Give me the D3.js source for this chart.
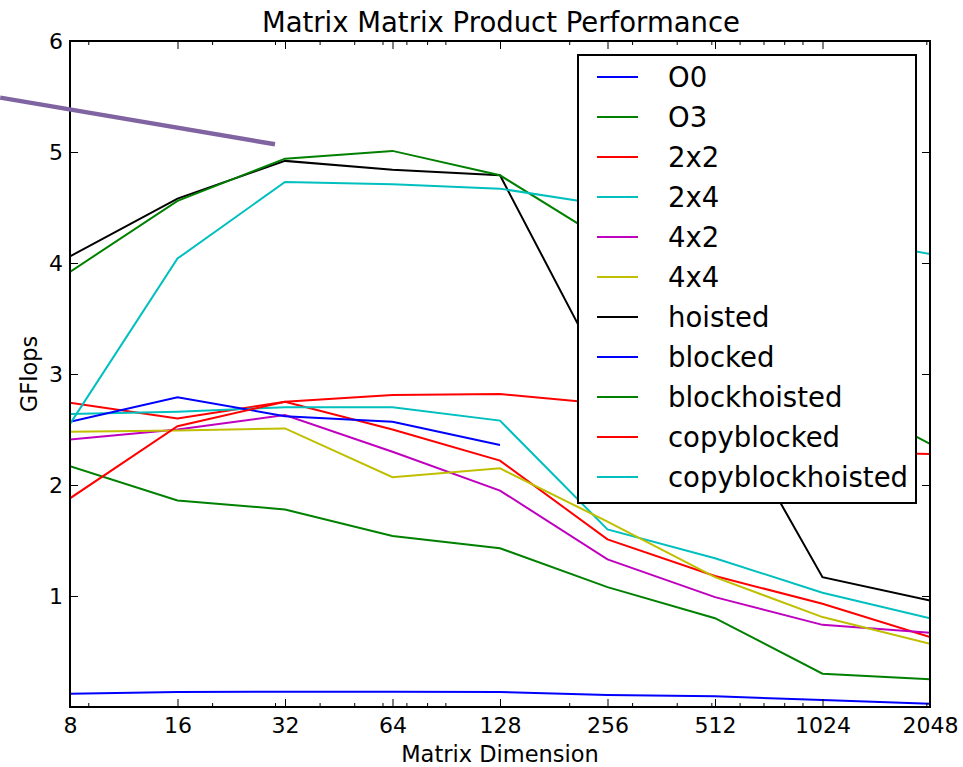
<!DOCTYPE html>
<html>
<head>
<meta charset="utf-8">
<script src="https://cdn.jsdelivr.net/npm/d3@7"></script>
<style>
  html, body { margin: 0; padding: 0; background: #fff; }
  svg { display: block; }
  text { font-family: "DejaVu Sans", sans-serif; fill: #000; }
</style>
</head>
<body>
<svg id="chart" width="963" height="767"></svg>
<script>
// ---- data ----
const dims = [8, 16, 32, 64, 128, 256, 512, 1024, 2048];
const xTickLabels = ["8", "16", "32", "64", "128", "256", "512", "1024", "2048"];
const xMinorTicks = [9, 20, 30, 40, 50, 60, 70, 80, 90, 200, 300, 400, 500, 600, 700, 800, 900, 2000];
const yTicks = [1, 2, 3, 4, 5, 6];

const seriesNames = ["O0", "O3", "2x2", "2x4", "4x2", "4x4", "hoisted", "blocked", "blockhoisted", "copyblocked", "copyblockhoisted"];
const seriesColors = ["#0000ff", "#008000", "#ff0000", "#00bfbf", "#bf00bf", "#bfbf00", "#000000", "#0000ff", "#008000", "#ff0000", "#00bfbf"];

const vO0               = [0.12, 0.135, 0.137, 0.138, 0.135, 0.108, 0.096, 0.063, 0.03];
const vO3               = [2.17, 1.86, 1.78, 1.54, 1.43, 1.08, 0.80, 0.30, 0.25];
const v2x2              = [2.74, 2.60, 2.75, 2.50, 2.22, 1.51, 1.18, 0.93, 0.63];
const v2x4              = [2.64, 2.66, 2.70, 2.70, 2.58, 1.60, 1.34, 1.03, 0.80];
const v4x2              = [2.41, 2.50, 2.63, 2.30, 1.95, 1.33, 0.99, 0.74, 0.67];
const v4x4              = [2.48, 2.49, 2.51, 2.07, 2.15, 1.67, 1.17, 0.81, 0.57];
const vHoisted          = [4.06, 4.58, 4.92, 4.84, 4.79, 2.94, 2.88, 1.17, 0.96];
const vBlocked          = [2.57, 2.79, 2.62, 2.57, 2.36, null, null, null, null];
const vBlockhoisted     = [3.92, 4.56, 4.94, 5.01, 4.79, 4.19, 3.50, 2.88, 2.37];
const vCopyblocked      = [1.88, 2.53, 2.75, 2.81, 2.82, 2.73, 2.55, 2.30, 2.28];
const vCopyblockhoisted = [2.55, 4.04, 4.73, 4.71, 4.67, 4.52, 4.40, 4.26, 4.08];

const seriesValues = [vO0, vO3, v2x2, v2x4, v4x2, v4x4, vHoisted, vBlocked, vBlockhoisted, vCopyblocked, vCopyblockhoisted];

// stray annotation stroke (data coordinates)
const annX = [5.1, 30];
const annY = [5.49, 5.07];

// ---- layout ----
const L = 70, R = 930, T = 41, B = 707;
const svg = d3.select("#chart");

const x = d3.scaleLog().base(2).domain([8, 2048]).range([L, R]);
const y = d3.scaleLinear().domain([0, 6]).range([B, T]);

// clip
svg.append("defs").append("clipPath").attr("id", "plotclip")
  .append("rect").attr("x", L).attr("y", T).attr("width", R - L).attr("height", B - T);

// lines
const lineGen = d3.line()
  .defined(d => d.v !== null)
  .x(d => x(d.d))
  .y(d => y(d.v));

const gLines = svg.append("g").attr("clip-path", "url(#plotclip)");
seriesNames.forEach((name, i) => {
  const pts = dims.map((d, j) => ({ d: d, v: seriesValues[i][j] }));
  gLines.append("path")
    .datum(pts)
    .attr("d", lineGen)
    .attr("fill", "none")
    .attr("stroke", seriesColors[i])
    .attr("stroke-width", 2)
    .attr("stroke-linejoin", "miter");
});

// axes
function styleAxis(g) {
  g.select(".domain").remove();
  g.selectAll(".tick line").attr("stroke", "#000").attr("stroke-width", 1);
  g.selectAll(".tick text").style("font-family", "DejaVu Sans").style("font-size", "22px").attr("fill", "#000");
}

const xAxisB = svg.append("g").attr("transform", `translate(0,${B})`)
  .call(d3.axisBottom(x).tickValues(dims).tickFormat((d, i) => xTickLabels[i]).tickSizeInner(-8).tickSizeOuter(0).tickPadding(10));
styleAxis(xAxisB);
const xMinB = svg.append("g").attr("transform", `translate(0,${B})`)
  .call(d3.axisBottom(x).tickValues(xMinorTicks).tickFormat("").tickSizeInner(-4).tickSizeOuter(0));
styleAxis(xMinB);
const xAxisT = svg.append("g").attr("transform", `translate(0,${T})`)
  .call(d3.axisTop(x).tickValues(dims).tickFormat("").tickSizeInner(-8).tickSizeOuter(0));
styleAxis(xAxisT);
const xMinT = svg.append("g").attr("transform", `translate(0,${T})`)
  .call(d3.axisTop(x).tickValues(xMinorTicks).tickFormat("").tickSizeInner(-4).tickSizeOuter(0));
styleAxis(xMinT);

const yAxisL = svg.append("g").attr("transform", `translate(${L},0)`)
  .call(d3.axisLeft(y).tickValues(yTicks).tickFormat(d3.format("d")).tickSizeInner(-8).tickSizeOuter(0).tickPadding(7));
styleAxis(yAxisL);
const yAxisR = svg.append("g").attr("transform", `translate(${R},0)`)
  .call(d3.axisRight(y).tickValues(yTicks).tickFormat("").tickSizeInner(-8).tickSizeOuter(0));
styleAxis(yAxisR);

// frame
svg.append("rect").attr("x", L).attr("y", T).attr("width", R - L).attr("height", B - T)
  .attr("fill", "none").attr("stroke", "#000").attr("stroke-width", 2);

// titles
svg.append("text").attr("x", (L + R) / 2 + 1).attr("y", 31.5).attr("text-anchor", "middle")
  .style("font-size", "27.5px").text("Matrix Matrix Product Performance");
svg.append("text").attr("x", (L + R) / 2).attr("y", 762).attr("text-anchor", "middle")
  .style("font-size", "22.5px").text("Matrix Dimension");
svg.append("text").attr("transform", `translate(37,${(T + B) / 2}) rotate(-90)`).attr("text-anchor", "middle")
  .style("font-size", "22.5px").text("GFlops");

// legend
const lg = svg.append("g");
lg.append("rect").attr("x", 578).attr("y", 55).attr("width", 338).attr("height", 448)
  .attr("fill", "#fff").attr("stroke", "#000").attr("stroke-width", 2);
seriesNames.forEach((name, i) => {
  const yy = 77 + i * 40;
  lg.append("line").attr("x1", 597).attr("x2", 638).attr("y1", yy).attr("y2", yy)
    .attr("stroke", seriesColors[i]).attr("stroke-width", 2);
  lg.append("text").attr("x", 668).attr("y", yy + 9.7).style("font-size", "27.5px").text(name);
});

// annotation stroke (unclipped)
svg.append("path")
  .datum(annX.map((d, i) => ({ d: d, v: annY[i] })))
  .attr("d", d3.line().x(d => x(d.d)).y(d => y(d.v)))
  .attr("fill", "none").attr("stroke", "#8064a2").attr("stroke-width", 4.5);
</script>
</body>
</html>
